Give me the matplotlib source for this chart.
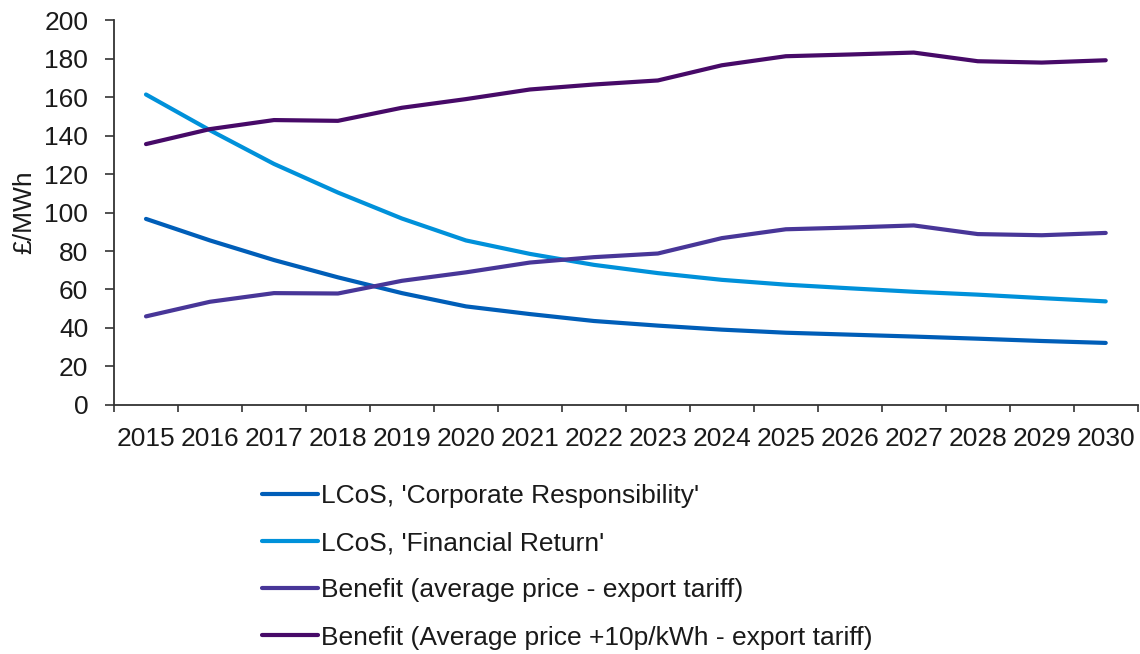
import numpy as np
import matplotlib
matplotlib.use("Agg")
import matplotlib.pyplot as plt
from matplotlib.ticker import FixedLocator, NullFormatter, FixedFormatter

years = [str(y) for y in range(2015, 2031)]

lcos_corporate = [96.7, 85.5, 75.3, 66.3, 58.1, 51.2, 47.2, 43.6, 41.2, 39.1,
                  37.5, 36.5, 35.5, 34.4, 33.2, 32.2]
lcos_financial = [161.4, 142.8, 125.3, 110.4, 96.9, 85.5, 78.5, 72.8, 68.5, 65.0,
                  62.5, 60.6, 58.8, 57.3, 55.5, 53.8]
benefit_avg = [46.0, 53.6, 58.1, 57.9, 64.5, 68.9, 74.0, 76.8, 78.7, 86.7,
               91.3, 92.2, 93.3, 88.8, 88.2, 89.4]
benefit_plus10 = [135.6, 143.4, 148.1, 147.7, 154.5, 159.0, 164.0, 166.6, 168.7, 176.6,
                  181.3, 182.2, 183.2, 178.7, 178.0, 179.2]

labels = ["LCoS, 'Corporate Responsibility'",
          "LCoS, 'Financial Return'",
          "Benefit (average price - export tariff)",
          "Benefit (Average price +10p/kWh - export tariff)"]
colors = ["#005EB8", "#0091DA", "#483698", "#470A68"]

plt.rcParams["font.family"] = ["Liberation Sans", "DejaVu Sans"]
FS = 19
TXT = "#1a1a1a"

fig = plt.figure(figsize=(11.4, 6.54), dpi=100)
ax = fig.add_axes([0.1, 0.381, 0.898, 0.588])

x = np.arange(len(years))
for vals, lab, col in zip([lcos_corporate, lcos_financial, benefit_avg, benefit_plus10],
                          labels, colors):
    ax.plot(x, vals, color=col, lw=3.0, label=lab, solid_capstyle="round")

ax.set_xlim(-0.5, len(years) - 0.5)
ax.set_ylim(0, 200)
ax.set_yticks(np.arange(0, 201, 20))

# category axis: ticks between categories, labels at centers
ax.xaxis.set_major_locator(FixedLocator(np.arange(-0.5, len(years), 1.0)))
ax.xaxis.set_major_formatter(NullFormatter())
ax.xaxis.set_minor_locator(FixedLocator(x))
ax.xaxis.set_minor_formatter(FixedFormatter(years))
ax.tick_params(axis="x", which="minor", length=0, pad=16, labelsize=FS, labelcolor=TXT)
ax.tick_params(axis="x", which="major", length=5, width=1.2, color="#333333")
ax.tick_params(axis="y", length=6.5, width=1.2, color="#333333", labelsize=FS,
               labelcolor=TXT, pad=12)

for s in ["top", "right"]:
    ax.spines[s].set_visible(False)
for s in ["left", "bottom"]:
    ax.spines[s].set_color("#333333")
    ax.spines[s].set_linewidth(1.3)

ax.set_ylabel("£/MWh", fontsize=FS, color=TXT, labelpad=6)

fig.legend(loc="upper left", bbox_to_anchor=(0.221, 0.276), frameon=False,
           fontsize=FS, handlelength=2.1, handletextpad=0.12,
           labelspacing=0.88, borderaxespad=0, labelcolor=TXT)

fig.savefig("out.png", dpi=100)
